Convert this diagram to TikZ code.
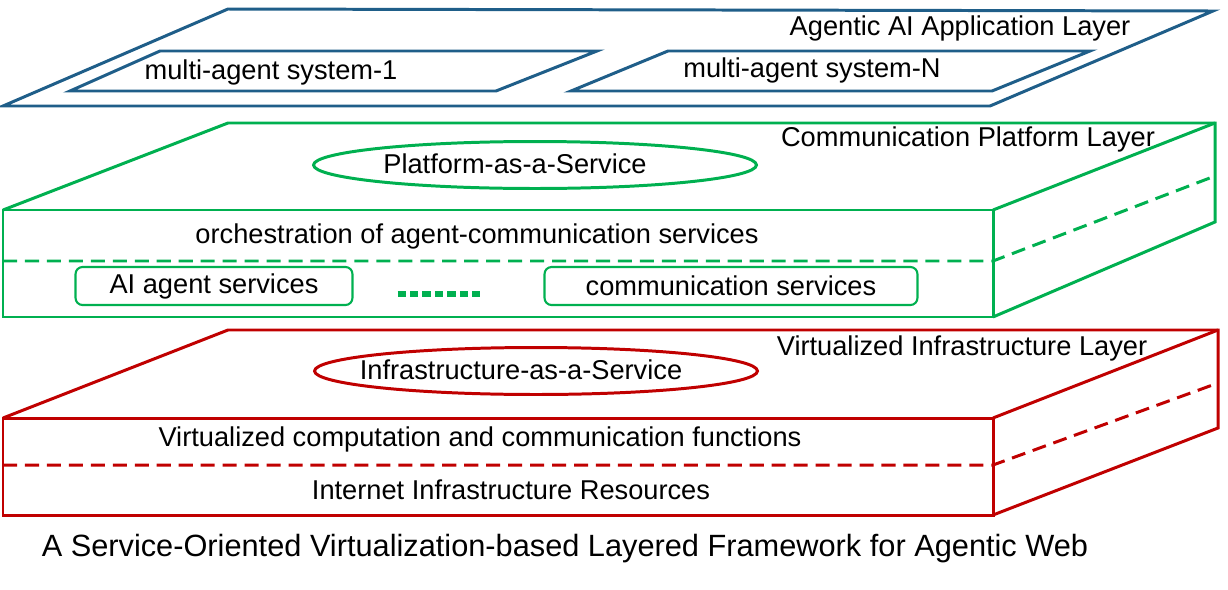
\documentclass[tikz,border=0pt]{standalone}
\usepackage{fontspec}
\setmainfont{Liberation Sans}
\usetikzlibrary{shapes,positioning,calc}
\definecolor{appblue}{RGB}{31,94,137}
\definecolor{platgreen}{RGB}{0,176,80}
\definecolor{infrared}{RGB}{192,0,0}

\begin{document}
\begin{tikzpicture}[x=0.02cm, y=-0.02cm, line join=miter,
  face/.style={line width=1.7pt},
  split/.style={line width=1.7pt, dash pattern=on 8pt off 4.5pt},
  txt/.style={font=\fontsize{15.5}{18}\selectfont, inner sep=0pt},
  svc/.style={ellipse, draw, line width=1.7pt, minimum width=8.86cm, minimum height=0.94cm},
  svcbox/.style={rectangle, rounded corners=4pt, draw, line width=1.2pt, minimum width=5.54cm, minimum height=0.76cm, font=\fontsize{15.5}{18}\selectfont},
  dotrow/.style={line width=3.8pt, dash pattern=on 4.6pt off 2.5pt}]

\useasboundingbox (0,0) rectangle (1228,589);

% APPLICATION LAYER

\draw [face, appblue] (3,106) -- (228,9) -- (1213,11) -- (990,106) -- cycle;
\draw [face, appblue] (70,91) -- (160,51) -- (597,51) -- (496,91) -- cycle;
\draw [face, appblue] (571,91) -- (668,51) -- (1090,51) -- (992,91) -- cycle;

\node [txt] (app-titulo) at (960,28) {Agentic AI Application Layer};
\node [txt] (mas-1) at (271,72) {multi-agent system-1};
\node [txt] (mas-n) at (812,70) {multi-agent system-N};

% PLATFORM LAYER

\draw [face, platgreen] (3,210) rectangle (993,317);
\draw [face, platgreen] (3,210) -- (228,123) -- (1215,123) -- (1215,222) -- (993,317);
\draw [face, platgreen] (993,210) -- (1215,123);
\draw [split, platgreen] (3,261) -- (993,261) -- (1215,176);

\node [txt] (plat-titulo) at (968,139) {Communication Platform Layer};
\node [svc, platgreen] (paas) at (535,165) {};
\node [txt] (paas-texto) at (515,164) {Platform-as-a-Service};
\node [txt] (orquestracao) at (477,236) {orchestration of agent-communication services};
\node [svcbox, platgreen, text=black] (ai-agent) at (214,286) {AI agent services};
\node [svcbox, platgreen, text=black, minimum width=7.46cm] (comunicacao) at (731,286) {communication services};
\draw [dotrow, platgreen] ($(ai-agent.east)+(44,8)$) -- ($(comunicacao.west)+(-60,8)$);

% INFRASTRUCTURE LAYER

\draw [face, infrared] (3,418) rectangle (993,515);
\draw [face, infrared] (3,418) -- (228,330) -- (1218,330) -- (1218,428) -- (993,515);
\draw [face, infrared] (993,418) -- (1218,330);
\draw [split, infrared] (3,465) -- (993,465) -- (1218,383);

\node [txt] (infra-titulo) at (962,348) {Virtualized Infrastructure Layer};
\node [svc, infrared] (iaas) at (536,371) {};
\node [txt] (iaas-texto) at (521,370) {Infrastructure-as-a-Service};
\node [txt] (virtualizado) at (480,439) {Virtualized computation and communication functions};
\node [txt] (recursos) at (511,490) {Internet Infrastructure Resources};

% CAPTION

\node [txt, font=\fontsize{17.5}{20}\selectfont] (legenda) at (565,549) {A Service-Oriented Virtualization-based Layered Framework for Agentic Web};

\end{tikzpicture}
\end{document}
